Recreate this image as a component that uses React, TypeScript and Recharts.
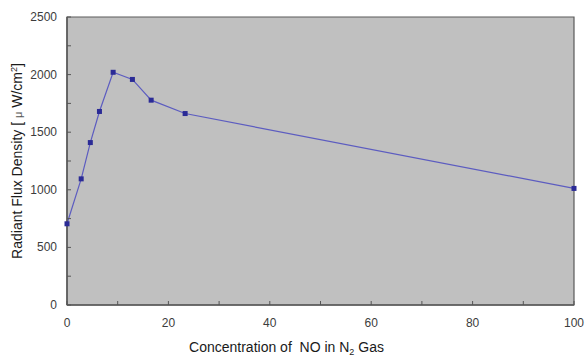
import React from "react";
import {
  LineChart, Line, XAxis, YAxis, CartesianGrid, ReferenceArea, Label,
} from "recharts";

// NO concentration in N2 (%) vs. radiant flux density (µW/cm²)
const concentration = [0, 2.8, 4.6, 6.4, 9.1, 12.9, 16.6, 23.3, 100];
const fluxDensity = [705, 1095, 1410, 1680, 2020, 1958, 1778, 1662, 1012];

const xTicks = [0, 10, 20, 30, 40, 50, 60, 70, 80, 90, 100];
const yTicks = [0, 250, 500, 750, 1000, 1250, 1500, 1750, 2000, 2250, 2500];

const data = concentration.map((c, i) => ({ c, flux: fluxDensity[i] }));

const FONT = "'Liberation Sans', Arial, sans-serif";

function XTick({ x, y, payload }: any) {
  const v = payload.value;
  return (
    <g>
      <line x1={x} x2={x} y1={y} y2={y - 4} stroke="#555" strokeWidth={1} />
      {v % 20 === 0 && (
        <text x={x} y={y + 22} textAnchor="middle" fontSize={12} fill="#3c3c3c" fontFamily={FONT}>
          {v}
        </text>
      )}
    </g>
  );
}

function YTick({ x, y, payload }: any) {
  const v = payload.value;
  return (
    <g>
      <line x1={x} x2={x + 4} y1={y} y2={y} stroke="#555" strokeWidth={1} />
      {v % 500 === 0 && (
        <text x={x - 10} y={y + 4} textAnchor="end" fontSize={12} fill="#3c3c3c" fontFamily={FONT}>
          {v}
        </text>
      )}
    </g>
  );
}

function SquareDot({ cx, cy }: any) {
  if (cx == null || cy == null) return null;
  return <rect x={cx - 2.5} y={cy - 2.5} width={5} height={5} fill="#2b2b96" />;
}

function XTitle({ viewBox }: any) {
  const { x, y, width } = viewBox;
  return (
    <text
      x={x + width / 2 - 34}
      y={y + 47}
      textAnchor="middle"
      fontSize={14}
      fill="#1a1a1a"
      fontFamily={FONT}
      style={{ whiteSpace: "pre" }}
    >
      {"Concentration of\u00a0 NO in N"}
      <tspan fontSize={9} dy={3}>2</tspan>
      <tspan dy={-3}> Gas</tspan>
    </text>
  );
}

function YTitle({ viewBox }: any) {
  const { y, height } = viewBox;
  const cx = 22;
  const cy = y + height / 2;
  return (
    <text
      x={cx}
      y={cy}
      transform={`rotate(-90 ${cx} ${cy})`}
      textAnchor="middle"
      fontSize={14}
      fill="#1a1a1a"
      fontFamily={FONT}
    >
      {"Radiant Flux Density [\u00a0"}
      <tspan fontSize={11} fill="#555">μ</tspan>
      {" W/cm"}
      <tspan fontSize={9} dy={-5}>2</tspan>
      <tspan dy={5}>]</tspan>
    </text>
  );
}

export default function App() {
  return (
    <div style={{ position: "absolute", left: 0, top: 0, background: "#fff" }}>
      <LineChart
        width={585}
        height={358}
        data={data}
        margin={{ top: 17, right: 11, bottom: 0, left: 0 }}
      >
        <CartesianGrid horizontal={false} vertical={false} fill="#c0c0c0" />
        <ReferenceArea x1={0} x2={100} y1={0} y2={2500} fill="#c0c0c0" fillOpacity={1} stroke="#5a5a5a" strokeWidth={1.2} />
        <XAxis
          type="number"
          dataKey="c"
          domain={[0, 100]}
          ticks={xTicks}
          height={53}
          tickSize={0}
          tickMargin={0}
          axisLine={{ stroke: "#5a5a5a", strokeWidth: 1.5 }}
          tick={<XTick />}
          interval={0}
        >
          <Label content={<XTitle />} />
        </XAxis>
        <YAxis
          type="number"
          domain={[0, 2500]}
          ticks={yTicks}
          width={67}
          tickSize={0}
          tickMargin={0}
          axisLine={{ stroke: "#5a5a5a", strokeWidth: 1.5 }}
          tick={<YTick />}
          interval={0}
        >
          <Label content={<YTitle />} />
        </YAxis>
        <Line
          type="linear"
          dataKey="flux"
          stroke="#5c5cc0"
          strokeWidth={1.2}
          dot={<SquareDot />}
          activeDot={false}
          isAnimationActive={false}
        />
      </LineChart>
    </div>
  );
}
